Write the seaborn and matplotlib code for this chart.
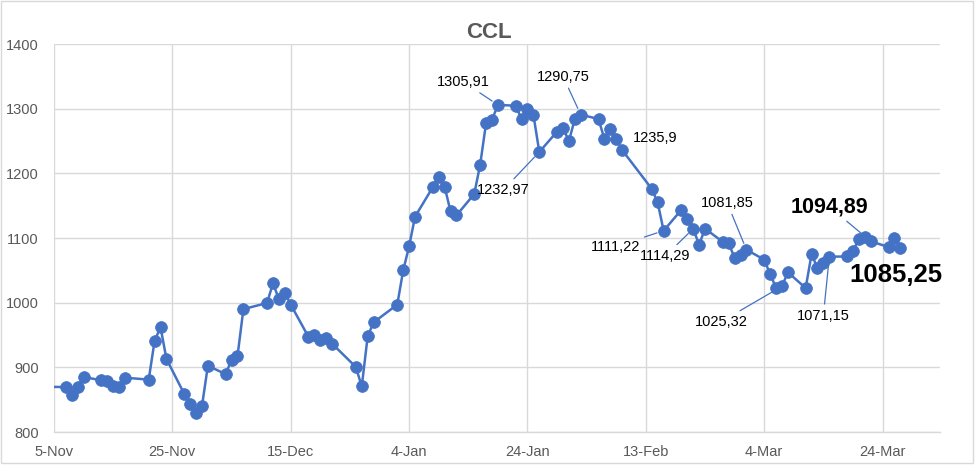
import matplotlib
matplotlib.use("Agg")
import matplotlib.pyplot as plt
import matplotlib.dates as mdates
from matplotlib.patches import Rectangle
import seaborn as sns
import pandas as pd

# ---------------- data ----------------
dates = [
    "2023-11-03", "2023-11-07", "2023-11-08", "2023-11-09", "2023-11-10",
    "2023-11-13", "2023-11-14", "2023-11-15", "2023-11-16", "2023-11-17",
    "2023-11-21", "2023-11-22", "2023-11-23", "2023-11-24",
    "2023-11-27", "2023-11-28", "2023-11-29", "2023-11-30", "2023-12-01",
    "2023-12-04", "2023-12-05", "2023-12-06", "2023-12-07",
    "2023-12-11", "2023-12-12", "2023-12-13", "2023-12-14", "2023-12-15",
    "2023-12-18", "2023-12-19", "2023-12-20", "2023-12-21", "2023-12-22",
    "2023-12-26", "2023-12-27", "2023-12-28", "2023-12-29",
    "2024-01-02", "2024-01-03", "2024-01-04", "2024-01-05",
    "2024-01-08", "2024-01-09", "2024-01-10", "2024-01-11", "2024-01-12",
    "2024-01-15", "2024-01-16", "2024-01-17", "2024-01-18", "2024-01-19",
    "2024-01-22", "2024-01-23", "2024-01-24", "2024-01-25", "2024-01-26",
    "2024-01-29", "2024-01-30", "2024-01-31", "2024-02-01", "2024-02-02",
    "2024-02-05", "2024-02-06", "2024-02-07", "2024-02-08", "2024-02-09",
    "2024-02-14", "2024-02-15", "2024-02-16",
    "2024-02-19", "2024-02-20", "2024-02-21", "2024-02-22", "2024-02-23",
    "2024-02-26", "2024-02-27", "2024-02-28", "2024-02-29", "2024-03-01",
    "2024-03-04", "2024-03-05", "2024-03-06", "2024-03-07", "2024-03-08",
    "2024-03-11", "2024-03-12", "2024-03-13", "2024-03-14", "2024-03-15",
    "2024-03-18", "2024-03-19", "2024-03-20", "2024-03-21", "2024-03-22",
    "2024-03-25", "2024-03-26", "2024-03-27",
]
values = [
    870, 869.5, 857, 870, 885,
    880, 879, 870.5, 870, 884,
    881, 941, 962, 913,
    859, 844, 829, 840, 902.5,
    889.5, 911.5, 917, 990,
    999.5, 1030, 1005.5, 1015, 997,
    947, 950, 943, 945, 936.5,
    900.5, 870.5, 948, 969.5,
    997, 1050, 1087, 1133,
    1178.5, 1195, 1179.5, 1141, 1135,
    1168, 1213, 1277.5, 1282.5, 1305.91,
    1304.5, 1284, 1299.5, 1290.5, 1232.97,
    1264.6, 1270, 1250, 1284, 1290.75,
    1284, 1253, 1268, 1253, 1235.9,
    1176, 1155, 1111.22,
    1143.5, 1130, 1114.29, 1089.5, 1114.5,
    1094, 1092, 1069, 1073, 1081.85,
    1066.5, 1044, 1023, 1025.32, 1047,
    1022.6, 1075, 1053.5, 1061, 1071.15,
    1071.4, 1080, 1098, 1101.5, 1094.89,
    1086, 1100, 1085.25,
]

x_ticks = ["2023-11-05", "2023-11-25", "2023-12-15", "2024-01-04",
           "2024-01-24", "2024-02-13", "2024-03-04", "2024-03-24"]
x_tick_labels = ["5-Nov", "25-Nov", "15-Dec", "4-Jan",
                 "24-Jan", "13-Feb", "4-Mar", "24-Mar"]
y_ticks = [800, 900, 1000, 1100, 1200, 1300, 1400]

label_dates = ["2024-01-19", "2024-02-02", "2024-02-09", "2024-01-26",
               "2024-02-16", "2024-02-21", "2024-03-01", "2024-03-07",
               "2024-03-15", "2024-03-22", "2024-03-27"]
label_texts = ["1305,91", "1290,75", "1235,9", "1232,97",
               "1111,22", "1114,29", "1081,85", "1025,32",
               "1071,15", "1094,89", "1085,25"]

# ---------------- styling ----------------
# offsets (points), leader?, fontsize, bold
label_style = [
    ((-25, 16.6), True, 10.5, False),
    ((-12.7, 27.4), True, 10.5, False),
    ((23.8, 8.9), False, 10.5, False),
    ((-26, -27.4), True, 10.5, False),
    ((-34.9, -11.4), True, 10.5, False),
    ((-20, -19.5), True, 10.5, False),
    ((-13.9, 33.8), True, 10.5, False),
    ((-43.8, -25.5), True, 10.5, False),
    ((-4.3, -42.5), True, 10.5, False),
    ((-29.9, 25), True, 15.5, True),
    ((-3, -20), False, 18.5, True),
]

sns.set_style("white")
plt.rcParams["font.family"] = ["Liberation Sans", "DejaVu Sans"]

BLUE = "#4472C4"
GRAY_TXT = "#595959"
GRID = "#d9d9d9"

df = pd.DataFrame({"date": pd.to_datetime(dates), "value": values})

fig = plt.figure(figsize=(9.8, 4.71), dpi=100)
ax = fig.add_axes([54 / 980, 1 - 432 / 471, (940 - 54) / 980, (432 - 44) / 471])

sns.lineplot(data=df, x="date", y="value", ax=ax, color=BLUE, linewidth=1.8,
             marker="o", markersize=8.5, markeredgecolor=BLUE,
             markeredgewidth=0.5, zorder=3)

start = pd.Timestamp("2023-11-05")
ax.set_xlim(mdates.date2num(start), mdates.date2num(start + pd.Timedelta(days=149.7)))
ax.set_ylim(800, 1400)

ax.set_xticks([mdates.date2num(pd.Timestamp(t)) for t in x_ticks])
ax.set_xticklabels(x_tick_labels)
ax.set_yticks(y_ticks)
ax.set_yticklabels([str(v) for v in y_ticks])

ax.grid(True, color=GRID, linewidth=1)
ax.set_axisbelow(True)
for s in ["top", "right", "left"]:
    ax.spines[s].set_visible(False)
ax.spines["bottom"].set_color(GRID)
ax.spines["bottom"].set_linewidth(1)

ax.tick_params(axis="both", length=0, labelsize=10.5, labelcolor=GRAY_TXT)
ax.tick_params(axis="y", pad=11)
ax.tick_params(axis="x", pad=9)
ax.set_xlabel("")
ax.set_ylabel("")

for d, txt, (off, leader, fs, bold) in zip(label_dates, label_texts, label_style):
    xv = mdates.date2num(pd.Timestamp(d))
    yv = float(df.loc[df["date"] == pd.Timestamp(d), "value"].iloc[0])
    kw = dict(xy=(xv, yv), xytext=off, textcoords="offset points",
              ha="center", va="center", fontsize=fs, color="black",
              fontweight="bold" if bold else "normal", zorder=5)
    if leader:
        kw["arrowprops"] = dict(arrowstyle="-", color=BLUE, lw=0.9,
                                shrinkA=1, shrinkB=5)
    ax.annotate(txt, **kw)

fig.text(488.5 / 980, 1 - 33 / 471, "CCL", ha="center", va="center",
         fontsize=16, fontweight="bold", color=GRAY_TXT)

fig.patches.append(Rectangle((0.001, 1 - 463 / 471), 972 / 980, 463 / 471 - 0.002,
                             transform=fig.transFigure, fill=False,
                             edgecolor=GRID, linewidth=1))

fig.savefig("out.png", dpi=100)
